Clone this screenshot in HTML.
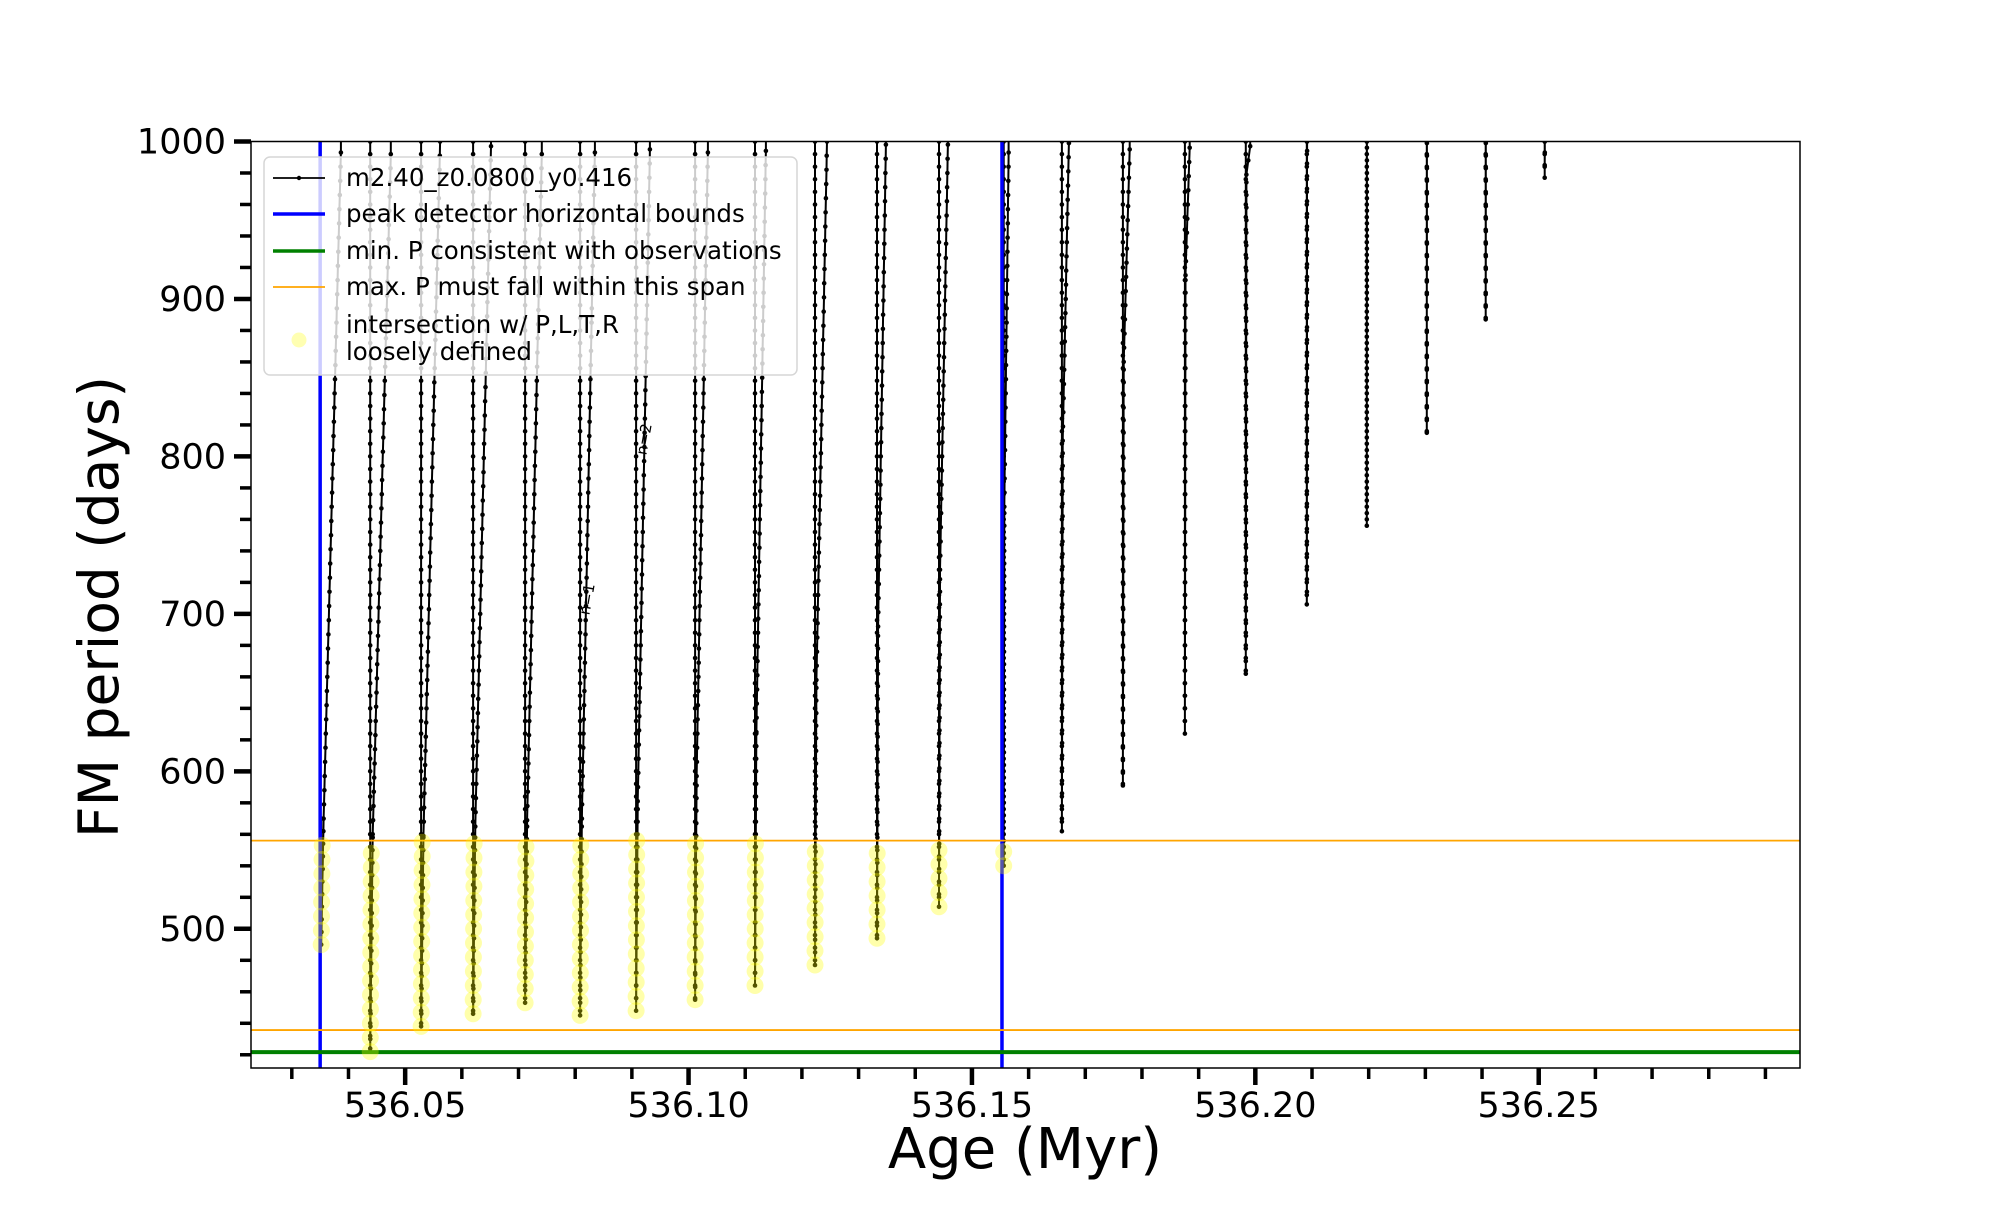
<!DOCTYPE html>
<html><head><meta charset="utf-8">
<style>
html,body{margin:0;padding:0;background:#fff;}
svg text{font-family:"DejaVu Sans","Liberation Sans",sans-serif;}
</style></head>
<body>
<svg id="chart" width="2000" height="1200" viewBox="0 0 2000 1200" xmlns="http://www.w3.org/2000/svg">
<rect width="2000" height="1200" fill="#fff"/>
<g id="plot"></g>
<g id="axes"></g>
<g id="legend">
  <rect x="264" y="157" width="533" height="218" rx="6" fill="#fff" fill-opacity="0.8" stroke="#d6d6d6" stroke-width="1.5"/>
  <g>
    <line x1="273" y1="178" x2="325" y2="178" stroke="#000" stroke-width="1.8"/><circle cx="299" cy="178" r="2.2" fill="#000"/>
    <text x="346" y="186" font-size="24.5">m2.40_z0.0800_y0.416</text></g>
  <g>
    <line x1="273" y1="214" x2="325" y2="214" stroke="#0000ff" stroke-width="3.5"/>
    <text x="346" y="222" font-size="24.5">peak detector horizontal bounds</text></g>
  <g>
    <line x1="273" y1="251" x2="325" y2="251" stroke="#008000" stroke-width="3.5"/>
    <text x="346" y="259" font-size="24.5">min. P consistent with observations</text></g>
  <g>
    <line x1="273" y1="287" x2="325" y2="287" stroke="#ffa500" stroke-width="1.8"/>
    <text x="346" y="295" font-size="24.5">max. P must fall within this span</text></g>
  <g>
    <circle cx="299" cy="340" r="7.5" fill="#ffff00" fill-opacity="0.3"/>
    <text x="346" y="333" font-size="24.5">intersection w/ P,L,T,R</text>
    <text x="346" y="360" font-size="24.5">loosely defined</text></g>
</g>
</svg>
<script>
// ---- data ----
const cycleLeftAge  = [536.03519,536.04383,536.05282,536.06199,536.07116,536.08086,536.09074,536.10115,536.11173,536.12231,536.13325,536.14418,536.1556,536.16587,536.17663,536.18757,536.19832,536.20909,536.21966,536.23025,536.24065,536.25106];
const cycleRightAge = [536.03871,536.04753,536.05617,536.06517,536.07416,536.08351,536.09321,536.10344,536.11367,536.12443,536.13483,536.14577,536.1565,536.16711,536.17787,536.18845,536.19921,536.20940,536.21990,536.23045,536.24080,536.25115];
const cycleMinP     = [490,422,438,446,453,445,448,455,464,477,494,514,540,562,591,624,662,706,756,815,887,977];
const cycleKneeP    = [570,560,559,565,569,570,581,597,625,658,692,728,768,810,860,915,979,1000,1000,1000,1000,1000];
const cycleTopP     = [570,1000,1000,1000,1000,1000,1000,1000,1000,1000,1000,1000,1000,1000,1000,1000,1000,1000,1000,1000,1000,1000];
const peakBounds = [536.0350,536.1553];
const minPLine = 421.7;
const maxPSpan = [435.7,556];
const yMajorTicks = [500,600,700,800,900,1000];
const xMajorTicks = [536.05,536.10,536.15,536.20,536.25];
const xMajorLabels = ["536.05","536.10","536.15","536.20","536.25"];

// ---- axes ----
const PL=251,PR=1800,PT=141.5,PB=1068;
const xMin=536.0228,xMax=536.2961,yMin=411.6,yMax=1000;
const X=v=>PL+(v-xMin)/(xMax-xMin)*(PR-PL);
const Y=v=>PT+(yMax-v)/(yMax-yMin)*(PB-PT);
const NS="http://www.w3.org/2000/svg";
function mk(tag,attrs,parent){const e=document.createElementNS(NS,tag);for(const k in attrs)e.setAttribute(k,attrs[k]);parent.appendChild(e);return e;}
const plot=document.getElementById('plot'), axes=document.getElementById('axes');

const defs=mk('defs',{},plot);const cp=mk('clipPath',{id:'clip'},defs);mk('rect',{x:PL,y:PT,width:PR-PL,height:PB-PT},cp);
const g=mk('g',{'clip-path':'url(#clip)'},plot);

let pts=[]; let dotsPts=[]; let yellow=[];
for(let i=0;i<cycleLeftAge.length;i++){
  const xl=cycleLeftAge[i], xr=cycleRightAge[i], mn=cycleMinP[i], kn=cycleKneeP[i], tp=cycleTopP[i];
  if(tp>=1000) pts.push([xl,1400]);
  for(let p=tp;p>mn;p-=8){pts.push([xl,p]);dotsPts.push([xl,p]);}
  pts.push([xl,mn]);dotsPts.push([xl,mn]);
  const xk=xl+(xr-xl)*0.12;
  for(let p=mn+8;p<kn;p+=8){const f=(p-mn)/Math.max(kn-mn,1);const q=[xl+(xk-xl)*f,p];pts.push(q);dotsPts.push(q);}
  for(let p=kn;p<=1000;p+=9){const f=(p-kn)/Math.max(1000-kn,1);const q=[xk+(xr-xk)*f,p];pts.push(q);dotsPts.push(q);}
  pts.push([xr+(xr-xk)*0.05,1400]);
  for(let p=mn;p<=maxPSpan[1];p+=9){yellow.push([xl+(xk-xl)*0.5*((p-mn)/Math.max(kn-mn,1)),p]);}
}
const line=mk('polyline',{points:pts.map(p=>X(p[0]).toFixed(1)+','+Y(p[1]).toFixed(1)).join(' '),fill:'none',stroke:'#000','stroke-width':2},g);


const dots=mk('g',{fill:'#000'},g);


dotsPts.forEach(p=>mk('circle',{cx:X(p[0]).toFixed(1),cy:Y(p[1]).toFixed(1),r:2.3},dots));

peakBounds.forEach((b,i)=>{const l=mk('line',{x1:X(b),x2:X(b),y1:PT,y2:PB,stroke:'#0000ff','stroke-width':3.5},g);

});
maxPSpan.forEach((v,i)=>{const l=mk('line',{x1:PL,x2:PR,y1:Y(v),y2:Y(v),stroke:'#ffa500','stroke-width':1.8},g);

});
const gl=mk('line',{x1:PL,x2:PR,y1:Y(minPLine),y2:Y(minPLine),stroke:'#008000','stroke-width':4},g);


const yg=mk('g',{fill:'#ffff00','fill-opacity':0.33},g);


yellow.forEach(p=>mk('circle',{cx:X(p[0]).toFixed(1),cy:Y(p[1]).toFixed(1),r:8.5},yg));

[["n=1",592,600],["n=2",649,440]].forEach(a=>{const t=mk('text',{x:a[1],y:a[2],'font-size':15,transform:`rotate(-80 ${a[1]} ${a[2]})`,'text-anchor':'middle'},plot);t.textContent=a[0];

});

mk('rect',{x:PL,y:PT,width:PR-PL,height:PB-PT,fill:'none',stroke:'#000','stroke-width':1.5},axes);
for(let v=420;v<=1000;v+=20){const maj=yMajorTicks.includes(v);
  mk('line',{x1:PL-(maj?17:11),x2:PL,y1:Y(v),y2:Y(v),stroke:'#000','stroke-width':maj?4.5:3.5},axes);
  if(maj){const t=mk('text',{x:226,y:Y(v)+12,'font-size':35,'text-anchor':'end'},axes);t.textContent=String(v);
  
  }}
for(let k=3;k<=29;k++){const v=536+k/100;const maj=(k%5===0);
  mk('line',{x1:X(v),x2:X(v),y1:PB,y2:PB+(maj?17:11),stroke:'#000','stroke-width':maj?4.5:3.5},axes);}
xMajorTicks.forEach((v,i)=>{const t=mk('text',{x:X(v),y:1117,'font-size':35,'text-anchor':'middle'},axes);t.textContent=xMajorLabels[i];

});
const xt=mk('text',{x:1025,y:1168,'font-size':56,'text-anchor':'middle'},axes);xt.textContent='Age (Myr)';


const yt=mk('text',{x:118,y:607,'font-size':55,'text-anchor':'middle',transform:'rotate(-90 118 607)'},axes);yt.textContent='FM period (days)';


document.getElementById('chart').appendChild(document.getElementById('legend'));
</script>
</body></html>
